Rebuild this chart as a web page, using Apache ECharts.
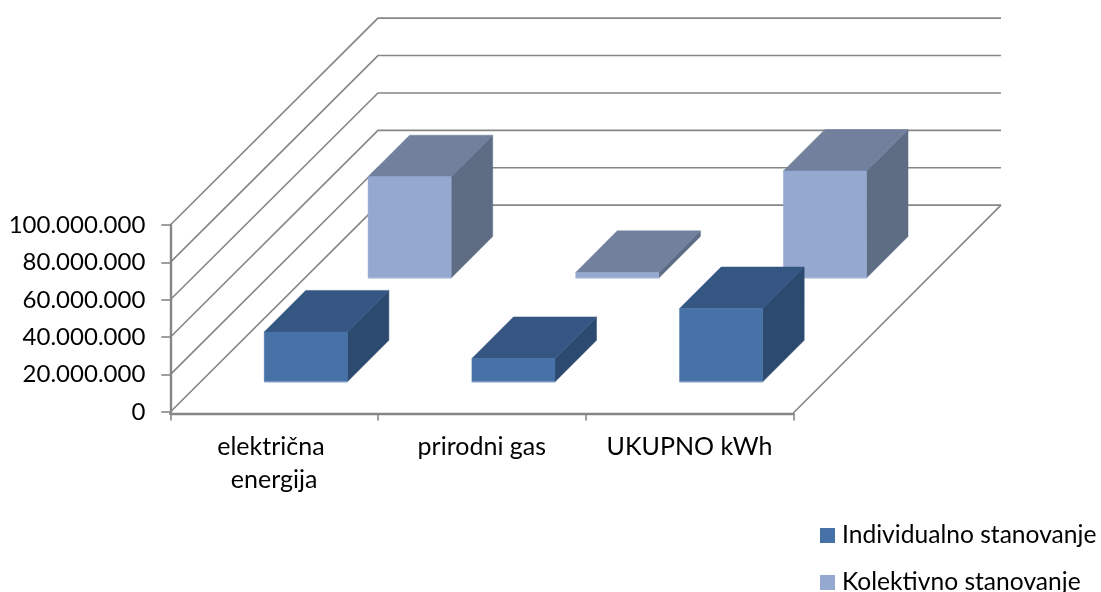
<!DOCTYPE html>
<html><head><meta charset="utf-8">
<style>html,body{margin:0;padding:0;background:#fff;overflow:hidden}#c{width:1101px;height:592px}</style>
<script src="https://cdn.jsdelivr.net/npm/echarts@6/dist/echarts.min.js"></script>
</head><body><div id="c"></div>
<script>
const categories = ['električna energija', 'prirodni gas', 'UKUPNO kWh'];
const individualno = [26700000, 12500000, 39200000];
const kolektivno = [54200000, 3000000, 57200000];
const yTicks = [0, 20000000, 40000000, 60000000, 80000000, 100000000];
const seriesNames = ['Individualno stanovanje', 'Kolektivno stanovanje'];

const FONT = 'Lato';
const AXIS = '#868686';
const FLOOR_DROP = 1;
const DEPTH_Y = 0.996;
const chart = echarts.init(document.getElementById('c'), null, {renderer: 'canvas'});

function toRows(vals) { return vals.map((v, i) => [i, v]); }

// Oblique 3D bar: slot 0 is the front row, slot 1 the back row. Floor depth equals one band.
function barRenderer(slot, front, top, side, edge) {
  return function (params, api) {
    const cat = api.value(0), val = api.value(1);
    const band = api.size([1, 0])[0];
    const rowDepth = band / 2, barDepth = rowDepth / 2.5, gap = (rowDepth - barDepth) / 2;
    const shift = gap + slot * rowDepth;
    const base = api.coord([cat, 0]), head = api.coord([cat, val]);
    const w = band * 0.4;
    const x0 = base[0] + shift - w / 2 + 0.5, x1 = x0 + w;
    const yb = base[1] + FLOOR_DROP - shift, yt = head[1] + FLOOR_DROP - shift;
    const d = barDepth;
    const poly = (pts, fill, z2) => ({type: 'polygon', z2, shape: {points: pts},
      style: {fill, stroke: fill, lineWidth: 0.5}});
    return {type: 'group', children: [
      poly([[x1, yb], [x1 + d, yb - d], [x1 + d, yt - d], [x1, yt]], side, 1),
      poly([[x0, yt], [x1, yt], [x1 + d, yt - d], [x0 + d, yt - d]], top, 2),
      {type: 'rect', z2: 3, shape: {x: x0, y: yt, width: w, height: yb - yt},
        style: {fill: front, stroke: front, lineWidth: 0.5}},
      {type: 'line', z2: 4, shape: {x1: x0, y1: yb, x2: x1, y2: yb},
        style: {stroke: edge, lineWidth: 1}}
    ]};
  };
}

function wallRenderer(params, api) {
  const val = api.value(1);
  const cs = params.coordSys;
  const band = api.size([1, 0])[0];
  const y = api.coord([0, val])[1];
  const yBack = y - band * DEPTH_Y;
  const children = [{
    type: 'polyline',
    shape: {points: [[cs.x, y], [cs.x + band, yBack], [cs.x + cs.width + band, yBack]]},
    style: {fill: null, stroke: AXIS, lineWidth: 1.6}
  }];
  if (val === 0) {
    children.push({type: 'line',
      shape: {x1: cs.x + cs.width, y1: y + 1, x2: cs.x + cs.width + band, y2: yBack},
      style: {stroke: AXIS, lineWidth: 1.6}});
  }
  return {type: 'group', children};
}

const legendBase = {
  orient: 'vertical', left: 820, padding: 0,
  itemWidth: 15, itemHeight: 15, icon: 'rect', selectedMode: false,
  textStyle: {fontFamily: FONT, fontSize: 24.6, color: '#000', padding: [0, 0, 0, 2]}
};

chart.setOption({
  animation: false,
  backgroundColor: '#fff',
  grid: {left: 170.3, top: 225, width: 623, height: 187},
  legend: [
    Object.assign({}, legendBase, {data: [seriesNames[0]], top: 523}),
    Object.assign({}, legendBase, {data: [seriesNames[1]], top: 570})
  ],
  xAxis: {
    type: 'category', data: categories, offset: 1.5,
    axisLine: {onZero: false, lineStyle: {color: AXIS, width: 2.4}},
    axisTick: {show: true, alignWithLabel: false, length: 7, lineStyle: {color: AXIS, width: 1.6}},
    axisLabel: {fontFamily: FONT, fontSize: 25, color: '#000', margin: 17, lineHeight: 33,
      width: 190, overflow: 'break', interval: 0}
  },
  yAxis: {
    type: 'value', min: 0, max: 100000000, interval: 20000000,
    splitLine: {show: false},
    axisLine: {show: true, onZero: false, lineStyle: {color: AXIS, width: 2.4}},
    axisTick: {show: true, length: 9, lineStyle: {color: AXIS, width: 1.6}},
    axisLabel: {fontFamily: FONT, fontSize: 24, color: '#000', margin: 25,
      formatter: v => String(v).replace(/\B(?=(\d{3})+$)/g, '.')}
  },
  series: [
    {type: 'custom', name: 'walls', z: 1, silent: true, encode: {x: 0, y: 1},
      data: yTicks.map(v => [0, v]), renderItem: wallRenderer},
    {type: 'custom', name: seriesNames[1], z: 3, encode: {x: 0, y: 1},
      itemStyle: {color: '#95a9d0'}, data: toRows(kolektivno),
      renderItem: barRenderer(1, '#95a9d0', '#72809e', '#5e6c84', '#b4c2dd')},
    {type: 'custom', name: seriesNames[0], z: 4, encode: {x: 0, y: 1},
      itemStyle: {color: '#4672a8'}, data: toRows(individualno),
      renderItem: barRenderer(0, '#4672a8', '#355682', '#2c4a70', '#8aa6c9')}
  ]
});
</script></body></html>
